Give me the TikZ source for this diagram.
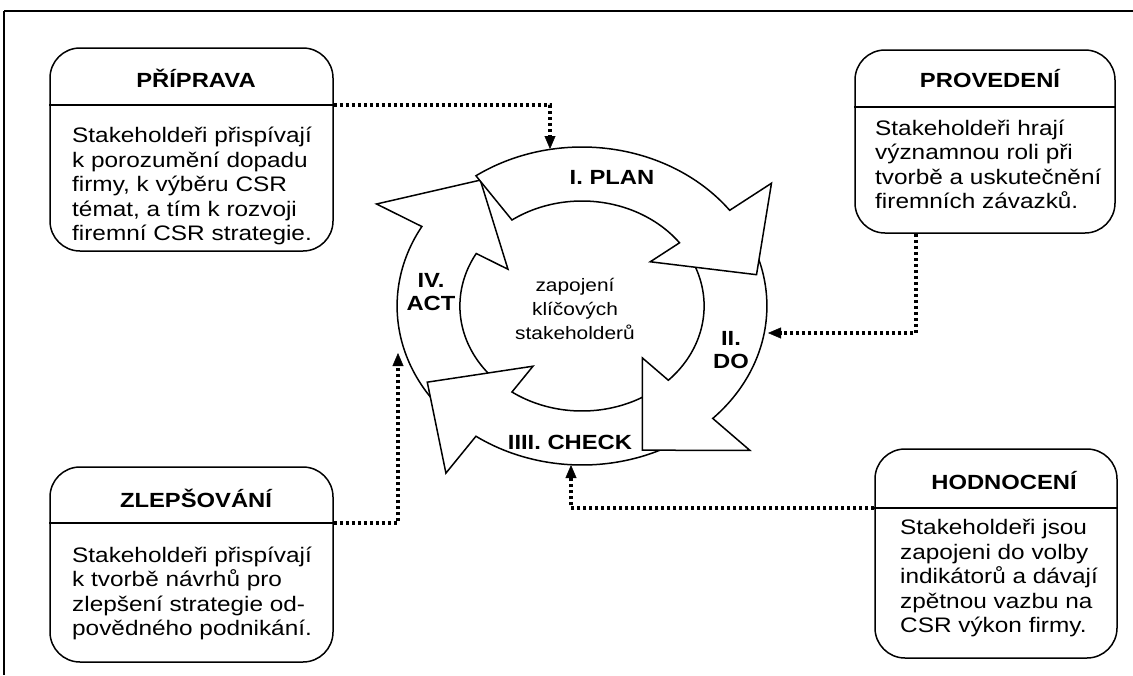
\documentclass[tikz,border=0pt]{standalone}
\usepackage{fontspec}
\setmainfont{Liberation Sans}[FakeStretch=1.16]
\usetikzlibrary{arrows.meta,calc}

\begin{document}
\begin{tikzpicture}[x=1pt,y=-1pt,
  infobox/.style={draw=black, line width=1.5pt, rounded corners=30pt, inner sep=0pt},
  divider/.style={draw=black, line width=1.2pt},
  boxtitle/.style={font=\fontsize{20.5}{24}\selectfont\bfseries, inner sep=0pt, text height=14.7pt, text depth=0pt},
  boxbody/.style={font=\fontsize{21}{24.5}\selectfont, align=left, inner sep=0pt, anchor=west},
  phase/.style={font=\fontsize{20.5}{23}\selectfont\bfseries, align=center, inner sep=0pt},
  centertext/.style={font=\fontsize{18}{24}\selectfont, align=center, inner sep=0pt},
  ringarrow/.style={draw=black, fill=white, line width=1.5pt, line join=miter},
  link/.style={line width=3.2pt, dash pattern=on 3pt off 3pt,
    -{Triangle[length=13pt,width=11pt,line width=0.4pt]}}
]
\useasboundingbox (0,0) rectangle (1133,675);

% outer frame: top and left rules
\draw[line width=2.5pt] (4,11) -- (1133,11);
\draw[line width=1.5pt] (4,11) -- (4,675);

% ---------- PDCA ring (four curved arrows, drawn so each head covers the next tail)
\begin{scope}[shift={(582,306)}, xscale=1.163, yscale=-1]
  \foreach \sa/\ea in {223/150, -57/-125, 25/-45, 125/37}{
    \pgfmathsetmacro\tipang{\ea-25.21}
    \filldraw[ringarrow]
      plot[domain=\sa:\ea, samples=60] (\x:159)
      -- (\ea:204) -- (\tipang:153.3) -- (\ea:73.5)
      -- plot[domain=\ea:\sa, samples=60] (\x:105) -- cycle;
  }
\end{scope}

\node[phase, text height=14.7pt, text depth=0pt] (planL) at (612,177) {I. PLAN};
\node[phase] (doL) at (731,350) {II.\\DO};
\node[phase, text height=14.7pt, text depth=0pt] (checkL) at (570,442) {IIII. CHECK};
\node[phase] (actL) at (431,292) {IV.\\ACT};
\node[centertext] (core) at (575,309) {zapojení\\klíčových\\stakeholderů};

% ---------- information boxes
\node[infobox, minimum width=283pt, minimum height=203pt] (prep) at (191.5,149.5) {};
\draw[divider] (prep.west |- 0,105) -- (prep.east |- 0,105);
\node[boxtitle] (prepT) at (196,80) {PŘÍPRAVA};
\node[boxbody] (prepB) at (72,186) {Stakeholdeři přispívají\\k porozumění dopadu\\firmy, k výběru CSR\\témat, a tím k rozvoji\\firemní CSR strategie.};

\node[infobox, minimum width=260pt, minimum height=183pt] (prov) at (985,141.5) {};
\draw[divider] (prov.west |- 0,107) -- (prov.east |- 0,107);
\node[boxtitle] (provT) at (990,80) {PROVEDENÍ};
\node[boxbody] (provB) at (875,164.5) {Stakeholdeři hrají\\významnou roli při\\tvorbě a uskutečnění\\firemních závazků.};

\node[infobox, minimum width=283pt, minimum height=195pt] (zlep) at (191.5,564.5) {};
\draw[divider] (zlep.west |- 0,523) -- (zlep.east |- 0,523);
\node[boxtitle] (zlepT) at (196,500) {ZLEPŠOVÁNÍ};
\node[boxbody] (zlepB) at (72,593.5) {Stakeholdeři přispívají\\k tvorbě návrhů pro\\zlepšení strategie od-\\povědného podnikání.};

\node[infobox, minimum width=242pt, minimum height=209pt] (hod) at (996,553.5) {};
\draw[divider] (hod.west |- 0,508) -- (hod.east |- 0,508);
\node[boxtitle] (hodT) at (1004,482) {HODNOCENÍ};
\node[boxbody] (hodB) at (900,578.5) {Stakeholdeři jsou\\zapojeni do volby\\indikátorů a dávají\\zpětnou vazbu na\\CSR výkon firmy.};

% ---------- dotted links from the boxes to the ring
\coordinate (prepR) at (prep.east |- 0,105);
\coordinate (planIn) at (550,149);
\draw[link] (prepR) -| (planIn);

\coordinate (provOut) at (916,0 |- prov.south);
\coordinate (doIn) at (768,333);
\draw[link] (provOut) |- (doIn);

\coordinate (hodL) at (hod.west |- 0,508);
\coordinate (checkIn) at (571,465);
\draw[link] (hodL) -| (checkIn);

\coordinate (zlepR) at (zlep.east |- 0,523);
\coordinate (actIn) at (398,353);
\draw[link] (zlepR) -| (actIn);
\end{tikzpicture}
\end{document}
